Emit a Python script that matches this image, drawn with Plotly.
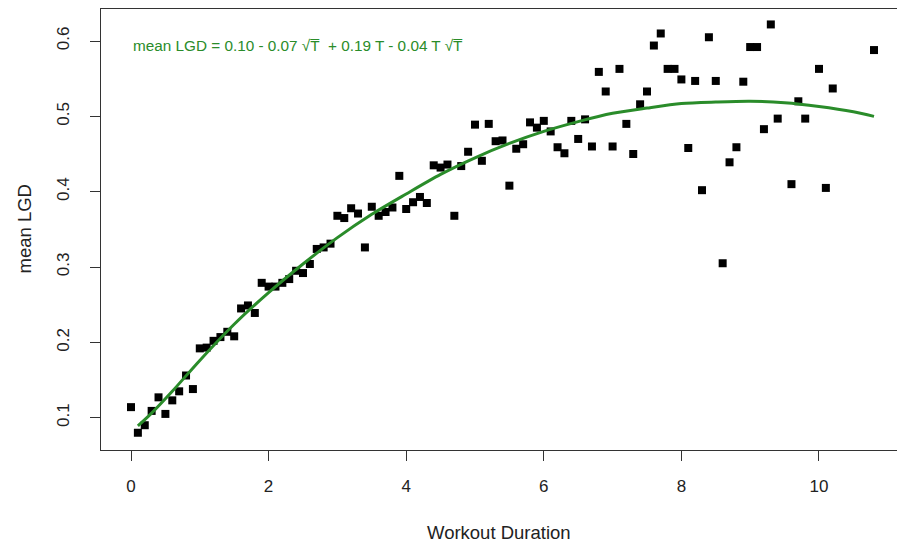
import plotly.graph_objects as go

# Observed points (Workout Duration, mean LGD)
duration = [0.0, 0.1, 0.2, 0.3, 0.4, 0.5, 0.6, 0.7, 0.8, 0.9,
            1.0, 1.1, 1.2, 1.3, 1.4, 1.5, 1.6, 1.7, 1.8, 1.9,
            2.0, 2.1, 2.2, 2.3, 2.4, 2.5, 2.6, 2.7, 2.8, 2.9,
            3.0, 3.1, 3.2, 3.3, 3.4, 3.5, 3.6, 3.7, 3.8, 3.9,
            4.0, 4.1, 4.2, 4.3, 4.4, 4.5, 4.6, 4.7, 4.8, 4.9,
            5.0, 5.1, 5.2, 5.3, 5.4, 5.5, 5.6, 5.7, 5.8, 5.9,
            6.0, 6.1, 6.2, 6.3, 6.4, 6.5, 6.6, 6.7, 6.8, 6.9,
            7.0, 7.1, 7.2, 7.3, 7.4, 7.5, 7.6, 7.7, 7.8, 7.9,
            8.0, 8.1, 8.2, 8.3, 8.4, 8.5, 8.6, 8.7, 8.8, 8.9,
            9.0, 9.1, 9.2, 9.3, 9.4, 9.6, 9.7, 9.8,
            10.0, 10.1, 10.2, 10.8]
mean_lgd = [0.114, 0.080, 0.090, 0.109, 0.127, 0.105, 0.123, 0.135, 0.156, 0.138,
            0.192, 0.193, 0.202, 0.207, 0.214, 0.208, 0.245, 0.249, 0.239, 0.279,
            0.274, 0.274, 0.279, 0.284, 0.295, 0.292, 0.304, 0.324, 0.326, 0.331,
            0.368, 0.365, 0.378, 0.371, 0.326, 0.380, 0.368, 0.373, 0.379, 0.421,
            0.377, 0.386, 0.393, 0.385, 0.435, 0.432, 0.436, 0.368, 0.434, 0.453,
            0.489, 0.441, 0.490, 0.467, 0.468, 0.408, 0.457, 0.463, 0.492, 0.485,
            0.494, 0.480, 0.459, 0.451, 0.494, 0.470, 0.496, 0.460, 0.559, 0.533,
            0.460, 0.563, 0.490, 0.450, 0.516, 0.533, 0.594, 0.610, 0.563, 0.563,
            0.549, 0.458, 0.547, 0.402, 0.605, 0.547, 0.305, 0.439, 0.459, 0.546,
            0.592, 0.592, 0.483, 0.622, 0.497, 0.410, 0.520, 0.497,
            0.563, 0.405, 0.537, 0.588]

# Fitted curve
fit_t = [0.1, 0.3, 0.6, 1.0, 1.5, 2.0, 2.5, 3.0, 3.5, 4.0, 4.5, 5.0,
         5.5, 6.0, 6.5, 7.0, 7.5, 8.0, 8.5, 9.0, 9.5, 10.0, 10.5, 10.8]
fit_lgd = [0.089, 0.106, 0.135, 0.176, 0.224, 0.266, 0.304, 0.339, 0.370, 0.397,
           0.423, 0.445, 0.464, 0.480, 0.493, 0.504, 0.511, 0.517, 0.519, 0.520,
           0.518, 0.513, 0.506, 0.500]

x_ticks = [0, 2, 4, 6, 8, 10]
y_ticks = [0.1, 0.2, 0.3, 0.4, 0.5, 0.6]
y_tick_text = ["0.1", "0.2", "0.3", "0.4", "0.5", "0.6"]

equation = "mean LGD = 0.10 - 0.07 \u221aT\u0305  + 0.19 T - 0.04 T \u221aT\u0305"

GREEN = "#2a8c2a"
FONT = "Liberation Sans, Arial, sans-serif"
AXC = "#333333"

fig = go.Figure()
fig.add_trace(go.Scatter(x=duration, y=mean_lgd, mode="markers",
                         marker=dict(symbol="square", size=8, color="black"),
                         showlegend=False, hoverinfo="skip"))
fig.add_trace(go.Scatter(x=fit_t, y=fit_lgd, mode="lines",
                         line=dict(color=GREEN, width=3, shape="spline", smoothing=0.8),
                         showlegend=False, hoverinfo="skip"))

fig.update_layout(
    width=897, height=546,
    margin=dict(l=101, r=0, t=9, b=96),
    paper_bgcolor="white", plot_bgcolor="white",
    font=dict(family=FONT, color="#222222", size=17),
    xaxis=dict(range=[-0.436, 11.134], tickvals=x_ticks,
               showgrid=False, zeroline=False,
               showline=True, mirror=True, linecolor=AXC, linewidth=1,
               ticks="outside", ticklen=10, tickcolor=AXC,
               tickfont=dict(size=17), ticklabelstandoff=11),
    yaxis=dict(range=[0.0571, 0.6425], tickvals=y_ticks, ticktext=y_tick_text,
               showgrid=False, zeroline=False,
               showline=True, linecolor=AXC, linewidth=1,
               ticks="outside", ticklen=10, tickcolor=AXC,
               tickangle=-90, tickfont=dict(size=17), ticklabelstandoff=14),
    annotations=[
        dict(text="Workout Duration", xref="paper", yref="paper", x=0.5, y=0,
             xanchor="center", yanchor="middle", yshift=-82, showarrow=False,
             font=dict(size=18.5, family=FONT, color="#222222")),
        dict(text="mean LGD", xref="paper", yref="paper", x=0, y=0.5,
             xanchor="center", yanchor="middle", xshift=-77, textangle=-90,
             showarrow=False, font=dict(size=18.5, family=FONT, color="#222222")),
        dict(text=equation, xref="x", yref="y", x=0, y=0.5947,
             xanchor="left", yanchor="middle", showarrow=False,
             font=dict(size=15.3, family=FONT, color=GREEN)),
    ],
)

fig.write_html("out.html", config={"displayModeBar": False},
               post_script="document.body.style.margin='0';document.body.style.overflow='hidden';")
